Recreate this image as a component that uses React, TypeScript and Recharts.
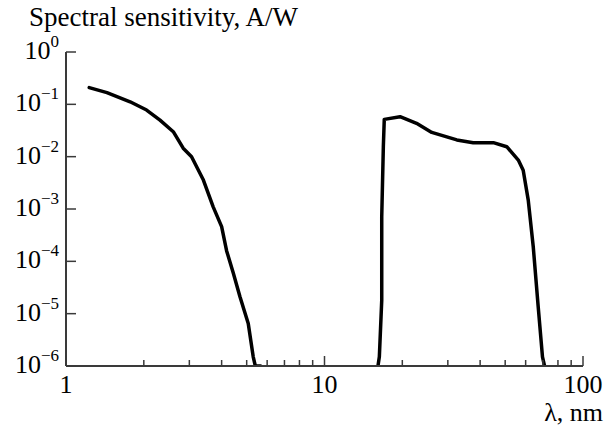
import React from "react";
import { LineChart, Line, XAxis, YAxis } from "recharts";

// left band (soft X-ray / VUV side)
const leftWavelength = [1.23, 1.44, 1.77, 2.05, 2.31, 2.6, 2.84, 3.06, 3.4, 3.71, 4.0, 4.18, 4.44, 4.71, 5.07, 5.3, 5.4, 5.66];
const leftSensitivity = [0.209, 0.167, 0.112, 0.0778, 0.05, 0.03, 0.0145, 0.01, 0.00357, 0.0011, 4.6e-4, 1.6e-4, 5.9e-5, 2.1e-5, 6.5e-6, 1.5e-6, 1e-6, 1e-6];

// right band (EUV filter window)
const rightWavelength = [16.1, 16.3, 16.65, 16.65, 16.89, 17.03, 19.6, 22.7, 26.0, 32.5, 37.6, 45.0, 50.7, 56.2, 58.7, 61.4, 64.2, 67.1, 69.7, 71.0];
const rightSensitivity = [1e-6, 1.5e-6, 1.8e-5, 7.1e-4, 0.0155, 0.0516, 0.058, 0.0434, 0.0291, 0.0209, 0.0185, 0.0185, 0.0155, 0.0086, 0.0055, 0.00148, 1.9e-4, 1.35e-5, 1.5e-6, 1e-6];

const xTicks = [1, 2, 3, 4, 5, 6, 7, 8, 9, 10, 20, 30, 40, 50, 60, 70, 80, 90, 100];
const xLabels = [1, 10, 100];
const yTicks = [1e-6, 1e-5, 1e-4, 1e-3, 1e-2, 1e-1, 1];

const leftData = leftWavelength.map((x, i) => ({ x, y: leftSensitivity[i] }));
const rightData = rightWavelength.map((x, i) => ({ x, y: rightSensitivity[i] }));

const font = "'Liberation Serif', 'Times New Roman', serif";
const axisColor = "#3a3a3a";

const YTick = (props: any) => {
  const { x, y, payload } = props;
  const exp = Math.round(Math.log10(payload.value));
  return (
    <g>
      <line x1={x} x2={x + 10} y1={y} y2={y} stroke={axisColor} strokeWidth={1.5} />
      <text x={x - 7} y={y + 7} textAnchor="end" fontFamily={font} fontSize={26} fill="#000">
        10
        <tspan dy={-12} fontSize={17}>
          {exp === 0 ? "0" : "\u2212" + -exp}
        </tspan>
      </text>
    </g>
  );
};

const XTick = (props: any) => {
  const { x, y, payload } = props;
  const major = xLabels.includes(payload.value);
  return (
    <g>
      <line x1={x} x2={x} y1={y} y2={y - (major ? 10 : 6)} stroke={axisColor} strokeWidth={1.5} />
      {major && (
        <text x={x} y={y + 27} textAnchor="middle" fontFamily={font} fontSize={26} fill="#000">
          {payload.value}
        </text>
      )}
    </g>
  );
};

export default function App() {
  return (
    <div style={{ position: "absolute", left: 0, top: 0, width: 611, height: 426, background: "#fff" }}>
      <LineChart width={611} height={426} margin={{ top: 52, right: 28, left: 0, bottom: 0 }}>
        <XAxis
          dataKey="x"
          type="number"
          scale="log"
          domain={[1, 100]}
          ticks={xTicks}
          interval={0}
          allowDataOverflow
          height={60}
          tickSize={0}
          tickMargin={0}
          tickLine={false}
          tick={<XTick />}
          axisLine={{ stroke: axisColor, strokeWidth: 2 }}
        />
        <YAxis
          dataKey="y"
          type="number"
          scale="log"
          domain={[1e-6, 1]}
          ticks={yTicks}
          interval={0}
          allowDataOverflow
          width={66}
          tickSize={0}
          tickMargin={0}
          tickLine={false}
          tick={<YTick />}
          axisLine={{ stroke: axisColor, strokeWidth: 2 }}
        />
        <Line data={leftData} dataKey="y" type="linear" stroke="#000" strokeWidth={3.5} dot={false} strokeLinejoin="round" strokeLinecap="round" isAnimationActive={false} />
        <Line data={rightData} dataKey="y" type="linear" stroke="#000" strokeWidth={3.5} dot={false} strokeLinejoin="round" strokeLinecap="round" isAnimationActive={false} />
      </LineChart>
      <svg width={611} height={426} style={{ position: "absolute", left: 0, top: 0, pointerEvents: "none" }}>
        <text x={29} y={26} fontFamily={font} fontSize={27} fill="#000">
          Spectral sensitivity, A/W
        </text>
        <text x={603} y={421} textAnchor="end" fontFamily={font} fontSize={26} fill="#000">
          λ, nm
        </text>
      </svg>
    </div>
  );
}
